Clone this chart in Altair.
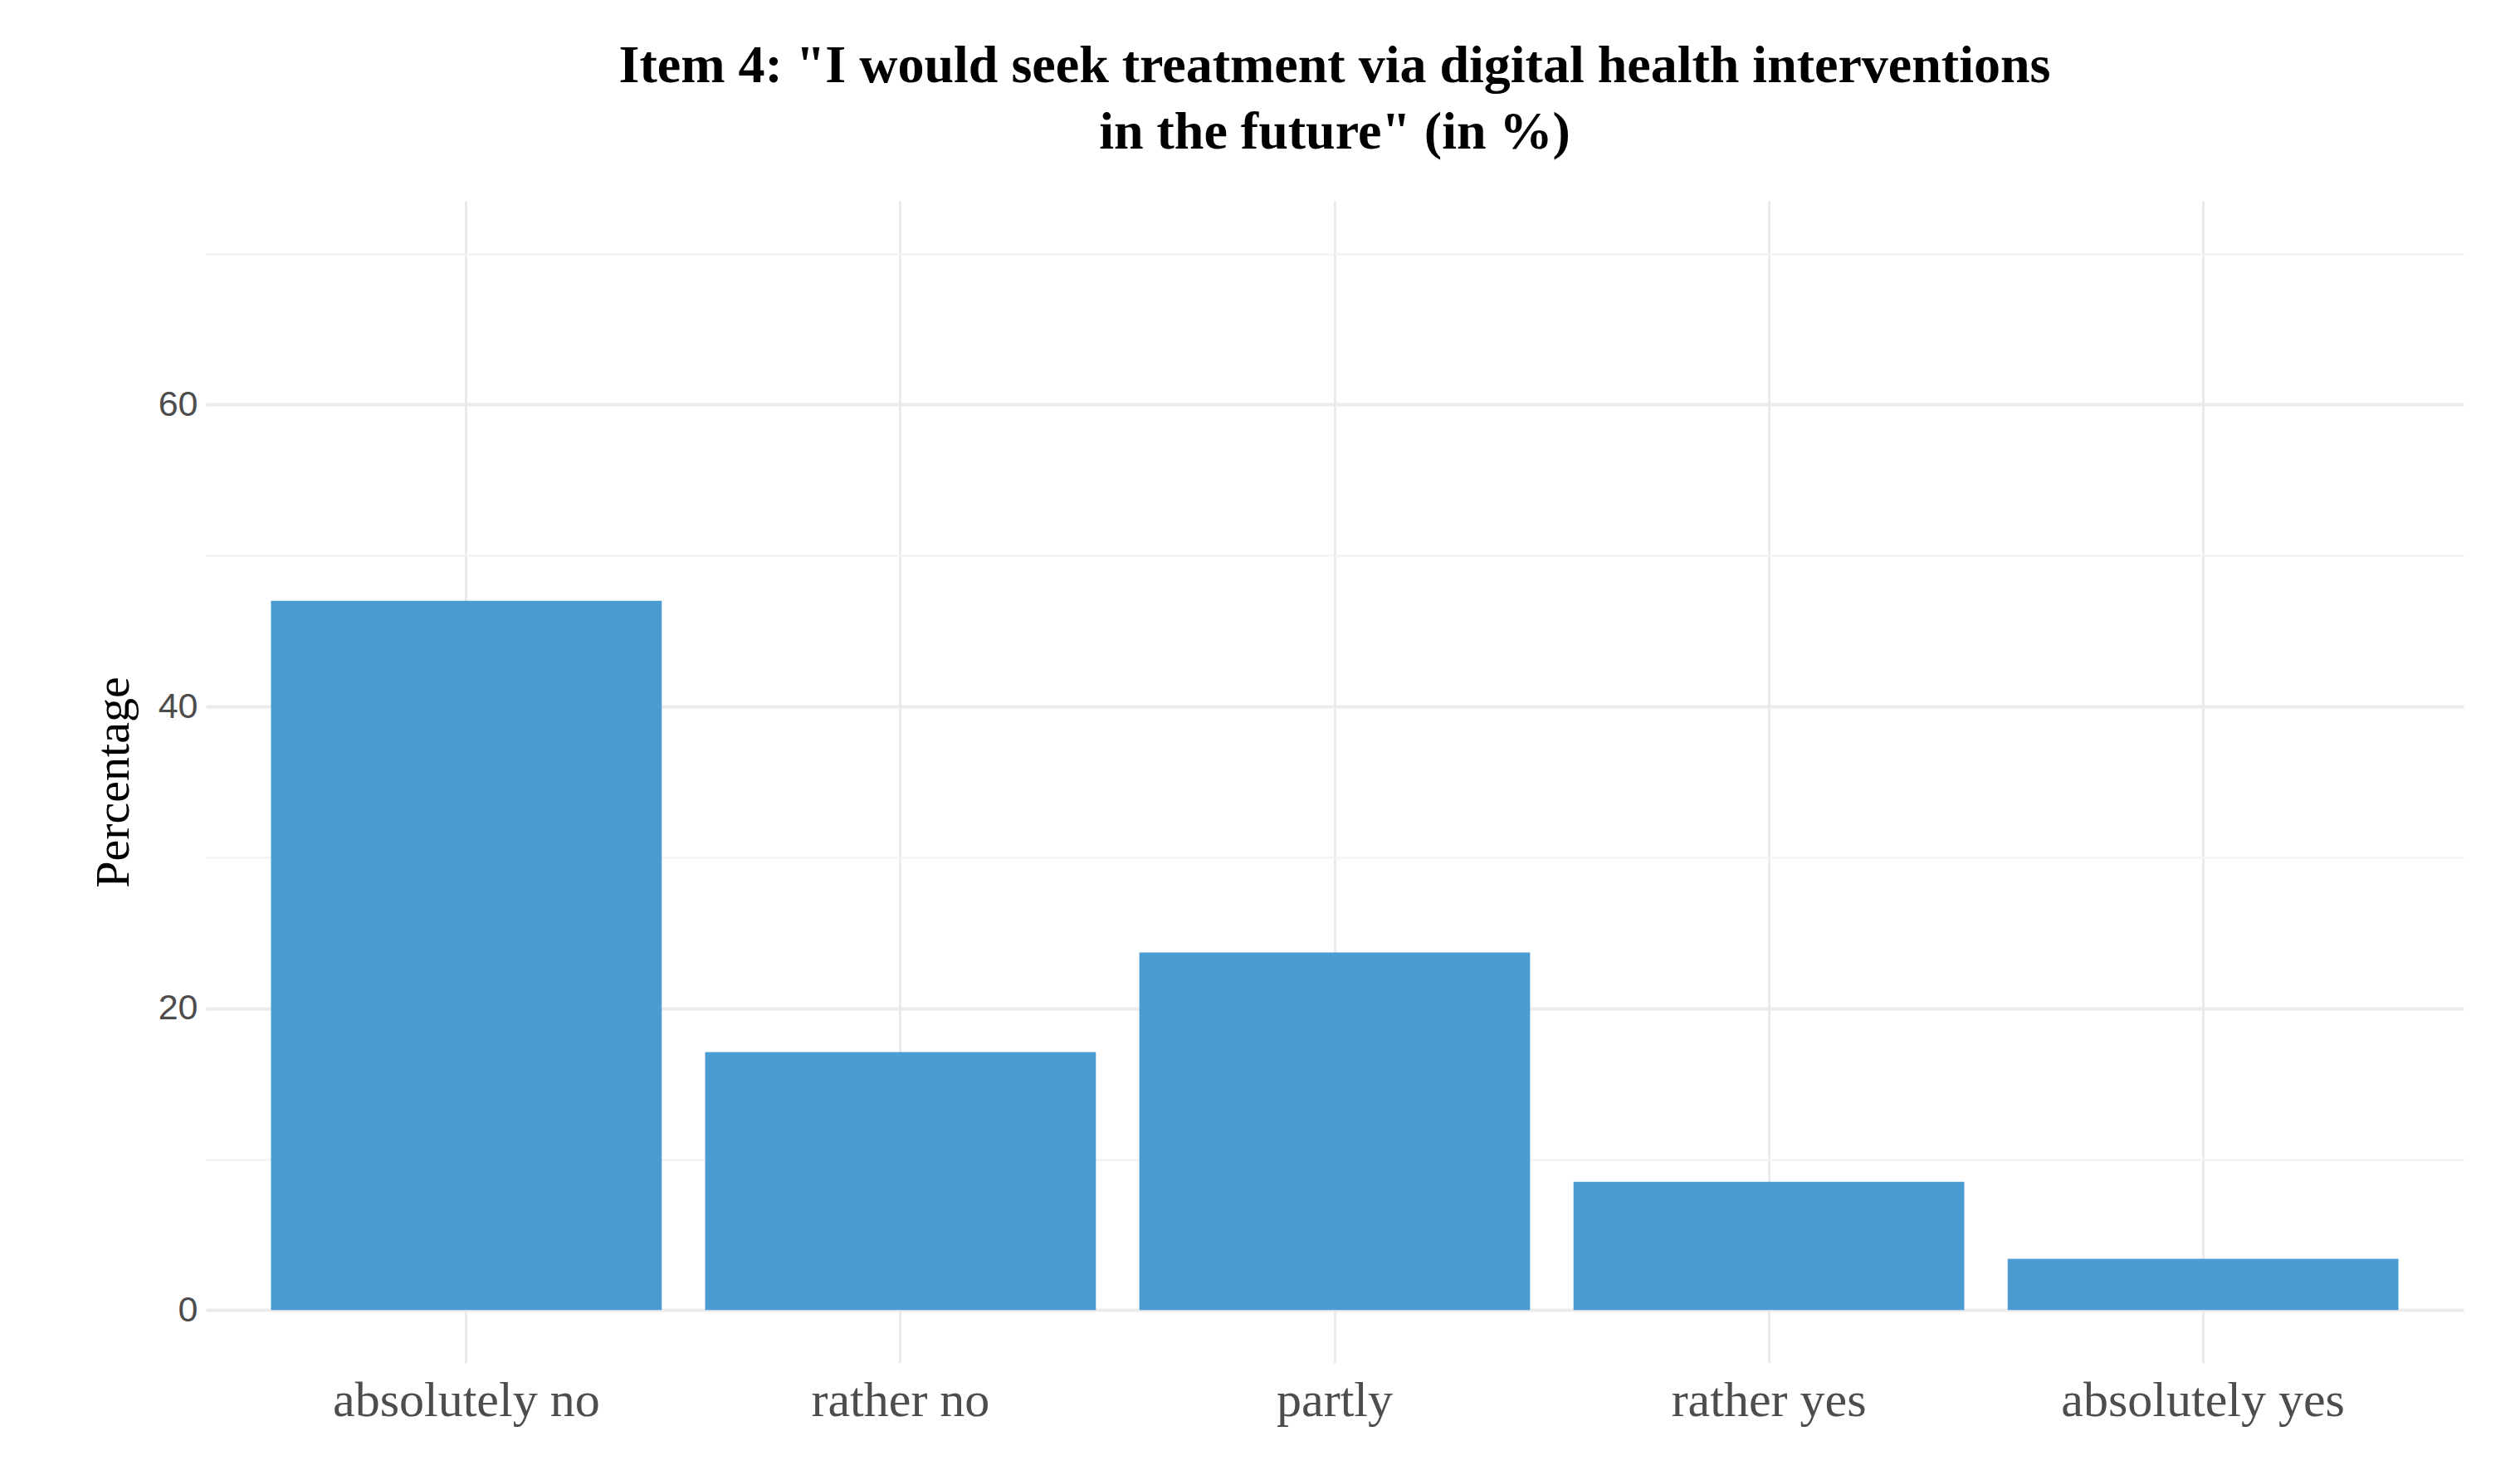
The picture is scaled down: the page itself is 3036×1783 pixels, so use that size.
import altair as alt
import pandas as pd

categories = ["absolutely no", "rather no", "partly", "rather yes", "absolutely yes"]
percentages = [47.0, 17.1, 23.7, 8.5, 3.4]

df = pd.DataFrame({"answer": categories, "pct": percentages})

_BAR = "#4b9cd3"
_SERIF = "Liberation Serif"
_SANS = "Liberation Sans"

chart = (
    alt.Chart(df)
    .mark_bar(color=_BAR)
    .encode(
        x=alt.X(
            "answer:N",
            sort=categories,
            title=None,
            scale=alt.Scale(paddingInner=0.1, paddingOuter=0.15),
            axis=alt.Axis(
                labelAngle=0, labelFont=_SERIF, labelFontSize=60, labelColor="#4d4d4d",
                labelPadding=16, labelLimit=0, ticks=False, domain=False, grid=True,
                gridColor="#ebebeb", gridWidth=3,
            ),
        ),
        y=alt.Y(
            "pct:Q",
            title="Percentage",
            scale=alt.Scale(domain=[-3.5, 73.5], nice=False, zero=False),
            axis=alt.Axis(
                values=[0, 10, 20, 30, 40, 50, 60, 70],
                labelExpr="datum.value % 20 == 0 ? datum.label : ''",
                labelFont=_SANS, labelFontSize=43, labelColor="#4d4d4d", labelPadding=10,
                titleFont=_SERIF, titleFontSize=58, titleFontWeight="normal", titleColor="#000000",
                titlePadding=24,
                ticks=False, domain=False,
                gridColor={"condition": {"test": "datum.value % 20 == 0", "value": "#ebebeb"}, "value": "#f3f3f3"},
                gridWidth={"condition": {"test": "datum.value % 20 == 0", "value": 4}, "value": 2.5},
            ),
        ),
        y2=alt.datum(0),
    )
    .properties(
        width=2720,
        height=1400,
        padding={"left": 100, "top": 40, "right": 10, "bottom": 10},
        title=alt.TitleParams(
            ['Item 4: "I would seek treatment via digital health interventions', 'in the future" (in %)'],
            font=_SERIF, fontSize=64, fontWeight="bold", color="#000000", anchor="middle",
            lineHeight=80, offset=50,
        ),
    )
    .configure_view(stroke=None)
)

chart.save("out.html", embed_options={"renderer": "svg", "actions": False})
